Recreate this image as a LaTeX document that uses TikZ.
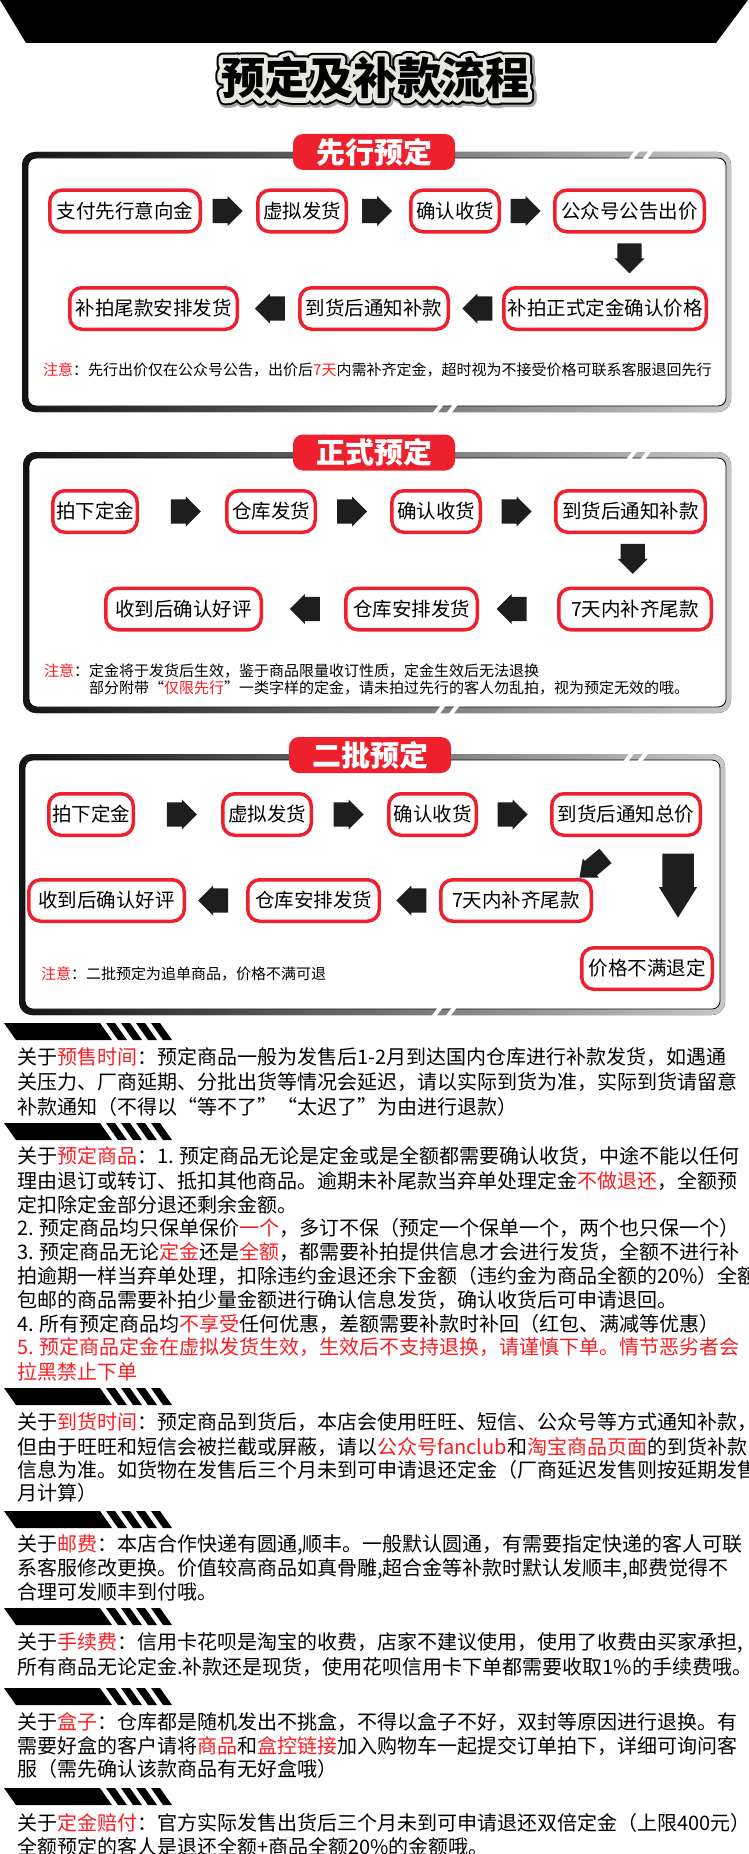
\documentclass[tikz,border=0pt]{standalone}
\usepackage{fontspec}
\setmainfont{Noto Sans CJK SC}
\newfontfamily\titleshade{Noto Sans CJK SC}[BoldFeatures={FakeBold=34}]
\newfontfamily\titleline{Noto Sans CJK SC}[BoldFeatures={FakeBold=29}]
\newfontfamily\titlehalo{Noto Sans CJK SC}[BoldFeatures={FakeBold=20}]
\usepackage{tikz}
\usetikzlibrary{shapes.arrows,calc}

\definecolor{hired}{RGB}{250,30,35}
\definecolor{boxred}{RGB}{238,32,45}
\definecolor{arrgray}{RGB}{30,30,30}
\definecolor{halo}{RGB}{232,232,226}

\newcommand{\redtxt}[1]{\textcolor{hired}{#1}}

\tikzset{
  flowbox/.style={draw=boxred, line width=3.5pt, fill=white, rounded corners=12pt,
    minimum height=41.5pt, inner sep=1pt, font=\fontsize{19.5}{20}\selectfont},
  tabbox/.style={fill=boxred, rounded corners=10pt, minimum width=162pt, minimum height=36pt,
    text=white, font=\fontsize{29}{30}\selectfont\bfseries},
  blkarr/.style={single arrow, fill=arrgray, inner xsep=0pt, inner ysep=8.5pt,
    minimum height=30pt, minimum width=30pt, single arrow head extend=2pt},
  rarr/.style={blkarr, xshift=-7.5pt},
  larr/.style={blkarr, rotate=180, xshift=-7.5pt},
  darr/.style={blkarr, rotate=-90, xshift=-7.5pt},
  diagarr/.style={blkarr, inner ysep=6pt, minimum height=34pt, minimum width=25pt,
    single arrow tip angle=80, rotate=220, xshift=-7.5pt},
  bigdarr/.style={blkarr, inner ysep=9.5pt, minimum height=64pt, minimum width=38pt,
    single arrow tip angle=64, rotate=-90, xshift=-15pt},
  titletext/.style={inner sep=0pt, line join=round, font=\fontsize{44}{44}\selectfont},
  notetext/.style={anchor=west, inner sep=0pt, align=left, font=\fontsize{15}{17.6}\selectfont},
  infotext/.style={anchor=west, inner sep=0pt, font=\fontsize{20}{24}\selectfont},
}

\begin{document}
\begin{tikzpicture}[x=1pt, y=-1pt]
\clip (0,0) rectangle (748,1854);
\fill[white] (0,0) rectangle (748,1854);

% Header band
\fill[black] (0,0) -- (748,0) -- (716,43) -- (26,43) -- cycle;

% Title with outline
\node[titletext, text=black!35] (tshade) at (376.5,79.5) {\titleshade\bfseries 预定及补款流程};
\node[titletext, text=black] (tline) at (375,78) {\titleline\bfseries 预定及补款流程};
\node[titletext, text=halo] (thalo) at (375,78) {\titlehalo\bfseries 预定及补款流程};
\node[titletext] (title) at (375,78) {\bfseries 预定及补款流程};

% Panel frames
\foreach \xa/\ya/\xb/\yb/\sa/\sb in {22/152/731/412/627/431, 23/452/731/713/625/433, 19/754/725/1015/622/430} {
  \fill[left color=black!92, right color=black!22, rounded corners=13pt] (\xa,\ya) rectangle (\xb,\yb);
  \filldraw[fill=white, draw=black, line width=0.8pt, rounded corners=8pt] (\xa+6,\ya+6) rectangle (\xb-5,\yb-6);
  \foreach \d in {0,14} {
    \fill[white] (\sa+\d,\ya+9) -- ++(5,0) -- ++(9,-12) -- ++(-5,0) -- cycle;
    \fill[white] (\sb+\d,\yb+3) -- ++(5,0) -- ++(9,-12) -- ++(-5,0) -- cycle;
  }
}

% Panel 1
\node[tabbox] (tab1) at (374,152) {先行预定};
\node[flowbox, minimum width=150.5pt] (p1a) at (125,211) {支付先行意向金};
\node[flowbox, minimum width=88.5pt] (p1b) at (302,211) {虚拟发货};
\node[flowbox, minimum width=88.5pt] (p1c) at (455,211) {确认收货};
\node[flowbox, minimum width=149.5pt] (p1d) at (629.5,211) {公众号公告出价};
\node[flowbox, minimum width=202.5pt] (p1e) at (605,308.5) {补拍正式定金确认价格};
\node[flowbox, minimum width=148.5pt] (p1f) at (374,308.5) {到货后通知补款};
\node[flowbox, minimum width=167.5pt] (p1g) at (153.5,308.5) {补拍尾款安排发货};
\path (p1a) -- (p1b) node[midway, rarr] (a11) {};
\path (p1b) -- (p1c) node[midway, rarr] (a12) {};
\path (p1c) -- (p1d) node[midway, rarr] (a13) {};
\path (p1d) -- (p1d |- p1e.north) node[midway, darr] (a14) {};
\path (p1e) -- (p1f) node[midway, larr] (a15) {};
\path (p1f) -- (p1g) node[midway, larr] (a16) {};
\node[notetext] (n1) at (43,370) {\redtxt{注意}：先行出价仅在公众号公告，出价后\redtxt{7天}内需补齐定金，超时视为不接受价格可联系客服退回先行};

% Panel 2
\node[tabbox] (tab2) at (374,452.5) {正式预定};
\node[flowbox, minimum width=84.5pt] (p2a) at (95,511.5) {拍下定金};
\node[flowbox, minimum width=88.5pt] (p2b) at (271,511.5) {仓库发货};
\node[flowbox, minimum width=88.5pt] (p2c) at (436,511.5) {确认收货};
\node[flowbox, minimum width=149.5pt] (p2d) at (630.5,511.5) {到货后通知补款};
\node[flowbox, minimum width=152.5pt] (p2e) at (635,609) {7天内补齐尾款};
\node[flowbox, minimum width=131.5pt] (p2f) at (411.5,609) {仓库安排发货};
\node[flowbox, minimum width=155.5pt] (p2g) at (183.5,609) {收到后确认好评};
\path (p2a) -- (p2b) node[pos=0.56, rarr] (a21) {};
\path (p2b) -- (p2c) node[midway, rarr] (a22) {};
\path (p2c) -- (p2d) node[midway, rarr] (a23) {};
\path (p2d) -- (p2e) node[midway, darr] (a24) {};
\path (p2e) -- (p2f) node[pos=0.6, larr] (a25) {};
\path (p2f) -- (p2g) node[midway, larr] (a26) {};
\node[notetext] (n2) at (44,679.5) {\redtxt{注意}：定金将于发货后生效，鉴于商品限量收订性质，定金生效后无法退换\\\hphantom{注意：}部分附带“\redtxt{仅限先行}”一类字样的定金，请未拍过先行的客人勿乱拍，视为预定无效的哦。};

% Panel 3
\node[tabbox] (tab3) at (370,755) {二批预定};
\node[flowbox, minimum width=84.5pt] (p3a) at (91,814.5) {拍下定金};
\node[flowbox, minimum width=88.5pt] (p3b) at (267,814.5) {虚拟发货};
\node[flowbox, minimum width=87.5pt] (p3c) at (432.5,814.5) {确认收货};
\node[flowbox, minimum width=148.5pt] (p3d) at (626,814.5) {到货后通知总价};
\node[flowbox, minimum width=150.5pt] (p3e) at (516,900.5) {7天内补齐尾款};
\node[flowbox, minimum width=131.5pt] (p3f) at (313.5,900.5) {仓库安排发货};
\node[flowbox, minimum width=155.5pt] (p3g) at (106.5,900.5) {收到后确认好评};
\node[flowbox, minimum width=130.5pt] (p3h) at (647,968.5) {价格不满退定};
\path (p3a) -- (p3b) node[pos=0.56, rarr] (a31) {};
\path (p3b) -- (p3c) node[midway, rarr] (a32) {};
\path (p3c) -- (p3d) node[midway, rarr] (a33) {};
\path (p3e) -- (p3f) node[midway, larr] (a34) {};
\path (p3f) -- (p3g) node[pos=0.57, larr] (a35) {};
\node[diagarr] (a36) at ($(p3d.south)+(-35,31)$) {};
\node[bigdarr] (a37) at ($(p3d.south east)+(-24,51)$) {};
\node[notetext] (n3) at (41,974) {\redtxt{注意}：二批预定为追单商品，价格不满可退};

% Stripe banners
\foreach \y in {1023,1123,1388,1511,1608,1688,1788} {
  \fill (4,\y) -- (100,\y) -- (112,\y+17) -- (16,\y+17) -- cycle;
  \foreach \s in {106,121,136,151}
    \fill (\s,\y) -- (\s+9,\y) -- (\s+21,\y+17) -- (\s+12,\y+17) -- cycle;
}

% About: pre-sale time
\node[infotext] (s1a) at (17,1057) {关于\redtxt{预售时间}：预定商品一般为发售后1-2月到达国内仓库进行补款发货，如遇通};
\node[infotext] (s1b) at (17,1082) {关压力、厂商延期、分批出货等情况会延迟，请以实际到货为准，实际到货请留意};
\node[infotext] (s1c) at (17,1107) {补款通知（不得以“等不了”“太迟了”为由进行退款）};

% About: pre-order goods
\node[infotext] (s2a) at (17,1156) {关于\redtxt{预定商品}：1. 预定商品无论是定金或是全额都需要确认收货，中途不能以任何};
\node[infotext] (s2b) at (17,1181) {理由退订或转订、抵扣其他商品。逾期未补尾款当弃单处理定金\redtxt{不做退还}，全额预};
\node[infotext] (s2c) at (17,1205) {定扣除定金部分退还剩余金额。};
\node[infotext] (s2d) at (17,1228) {2. 预定商品均只保单保价\redtxt{一个}，多订不保（预定一个保单一个，两个也只保一个）};
\node[infotext] (s2e) at (17,1252) {3. 预定商品无论\redtxt{定金}还是\redtxt{全额}，都需要补拍提供信息才会进行发货，全额不进行补};
\node[infotext] (s2f) at (17,1276) {拍逾期一样当弃单处理，扣除违约金退还余下金额（违约金为商品全额的20\%）全额};
\node[infotext] (s2g) at (17,1300) {包邮的商品需要补拍少量金额进行确认信息发货，确认收货后可申请退回。};
\node[infotext] (s2h) at (17,1324) {4. 所有预定商品均\redtxt{不享受}任何优惠，差额需要补款时补回（红包、满减等优惠）};
\node[infotext, text=hired] (s2i) at (17,1347) {5. 预定商品定金在虚拟发货生效，生效后不支持退换，请谨慎下单。情节恶劣者会};
\node[infotext, text=hired] (s2j) at (17,1372) {拉黑禁止下单};

% About: arrival time
\node[infotext] (s3a) at (17,1422) {关于\redtxt{到货时间}：预定商品到货后，本店会使用旺旺、短信、公众号等方式通知补款，};
\node[infotext] (s3b) at (17,1447) {但由于旺旺和短信会被拦截或屏蔽，请以\redtxt{公众号fanclub}和\redtxt{淘宝商品页面}的到货补款};
\node[infotext] (s3c) at (17,1470) {信息为准。如货物在发售后三个月未到可申请退还定金（厂商延迟发售则按延期发售};
\node[infotext] (s3d) at (17,1493) {月计算）};

% About: postage
\node[infotext] (s4a) at (17,1545) {关于\redtxt{邮费}：本店合作快递有圆通,顺丰。一般默认圆通，有需要指定快递的客人可联};
\node[infotext] (s4b) at (17,1569) {系客服修改更换。价值较高商品如真骨雕,超合金等补款时默认发顺丰,邮费觉得不};
\node[infotext] (s4c) at (17,1592) {合理可发顺丰到付哦。};

% About: fees
\node[infotext] (s5a) at (17,1643) {关于\redtxt{手续费}：信用卡花呗是淘宝的收费，店家不建议使用，使用了收费由买家承担,};
\node[infotext] (s5b) at (17,1667) {所有商品无论定金.补款还是现货，使用花呗信用卡下单都需要收取1\%的手续费哦。};

% About: boxes
\node[infotext] (s6a) at (17,1722) {关于\redtxt{盒子}：仓库都是随机发出不挑盒，不得以盒子不好，双封等原因进行退换。有};
\node[infotext] (s6b) at (17,1746) {需要好盒的客户请将\redtxt{商品}和\redtxt{盒控链接}加入购物车一起提交订单拍下，详细可询问客};
\node[infotext] (s6c) at (17,1769) {服（需先确认该款商品有无好盒哦）};

% About: deposit compensation
\node[infotext] (s7a) at (17,1823) {关于\redtxt{定金赔付}：官方实际发售出货后三个月未到可申请退还双倍定金（上限400元），};
\node[infotext] (s7b) at (17,1847) {全额预定的客人是退还全额+商品全额20\%的金额哦。};
\end{tikzpicture}
\end{document}
